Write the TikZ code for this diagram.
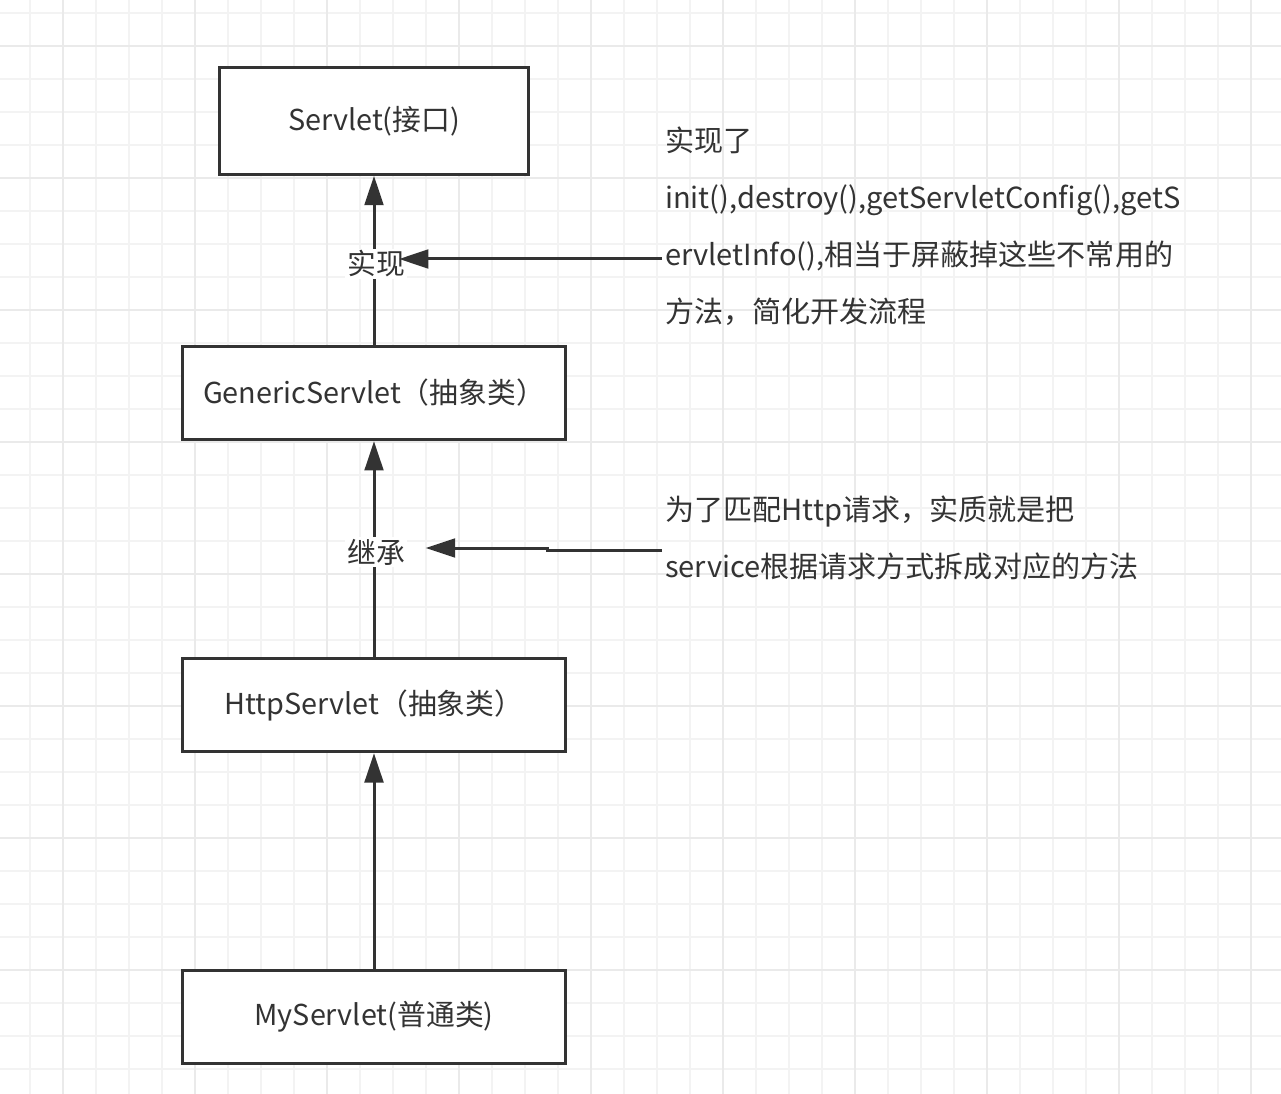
\documentclass[tikz,border=0pt]{standalone}
\usepackage{fontspec}
\setmainfont{Noto Sans CJK SC}
\usetikzlibrary{arrows.meta, positioning}
\definecolor{umlLine}{HTML}{333333}
\definecolor{umlGrid}{HTML}{F3F3F3}
\definecolor{umlGridMajor}{HTML}{EAEAEA}
\tikzset{
  servletfig/.style={
    x=0.75pt, y=-0.75pt,
    every node/.append style={font=\fontsize{21.6}{25}\selectfont, text=umlLine},
    >={Triangle[length=22pt, width=14pt]},
  },
  gridline/.style={draw=umlGrid, line width=0.9pt},
  gridmajor/.style={draw=umlGridMajor, line width=1.2pt},
  classbox/.style={
    draw=umlLine, line width=2.25pt, fill=white, inner sep=0pt,
    minimum width=287pt, minimum height=70pt,
  },
  ifacebox/.style={classbox, minimum width=232pt, minimum height=80pt},
  inherit/.style={draw=umlLine, line width=2.25pt, ->},
  tag/.style={fill=white, inner sep=1.5pt},
  note/.style={align=left, anchor=north west, inner sep=0pt,
    font=\fontsize{21.8}{42.75}\selectfont},
}
\begin{document}
\begin{tikzpicture}[servletfig]
  \useasboundingbox (0,0) rectangle (1281,1094);
  % Hintergrundraster
  \foreach \gx in {30,63,...,1281} \draw[gridline] (\gx,0) -- (\gx,1094);
  \foreach \gy in {13,46,...,1094} \draw[gridline] (0,\gy) -- (1281,\gy);
  \foreach \gx in {63,195,...,1281} \draw[gridmajor] (\gx,0) -- (\gx,1094);
  \foreach \gy in {46,178,...,1094} \draw[gridmajor] (0,\gy) -- (1281,\gy);
  \node[ifacebox] (Servlet) at (374,121) {Servlet(接口)};
  \node[classbox] (GenericServlet) at (374,393) {GenericServlet（抽象类）};
  \node[classbox] (HttpServlet) at (374,705) {HttpServlet（抽象类）};
  \node[classbox] (MyServlet) at (374,1017) {MyServlet(普通类)};
  \draw[inherit] (GenericServlet) -- (Servlet);
  \draw[inherit] (HttpServlet) -- (GenericServlet);
  \draw[inherit] (MyServlet) -- (HttpServlet);
  \node[tag] (implTag) at (376,264) {实现};
  \node[tag] (inheritTag) at (376,552) {继承};
  \node[note] (implNote) at (665,127) {实现了\\init(),destroy(),getServletConfig(),getS\\ervletInfo(),相当于屏蔽掉这些不常用的\\方法，简化开发流程};
  \node[note] (svcNote) at (665,496) {为了匹配Http请求，实质就是把\\service根据请求方式拆成对应的方法};
  \coordinate (implFrom) at (662,259);
  \coordinate (svcFrom) at (662,550);
  \draw[inherit] (implFrom) -- ([xshift=-6pt, yshift=3.75pt]implTag.east);
  \draw[inherit] (svcFrom) -- ++(-115,0) |- ([xshift=14pt, yshift=3pt]inheritTag.east);
\end{tikzpicture}
\end{document}
